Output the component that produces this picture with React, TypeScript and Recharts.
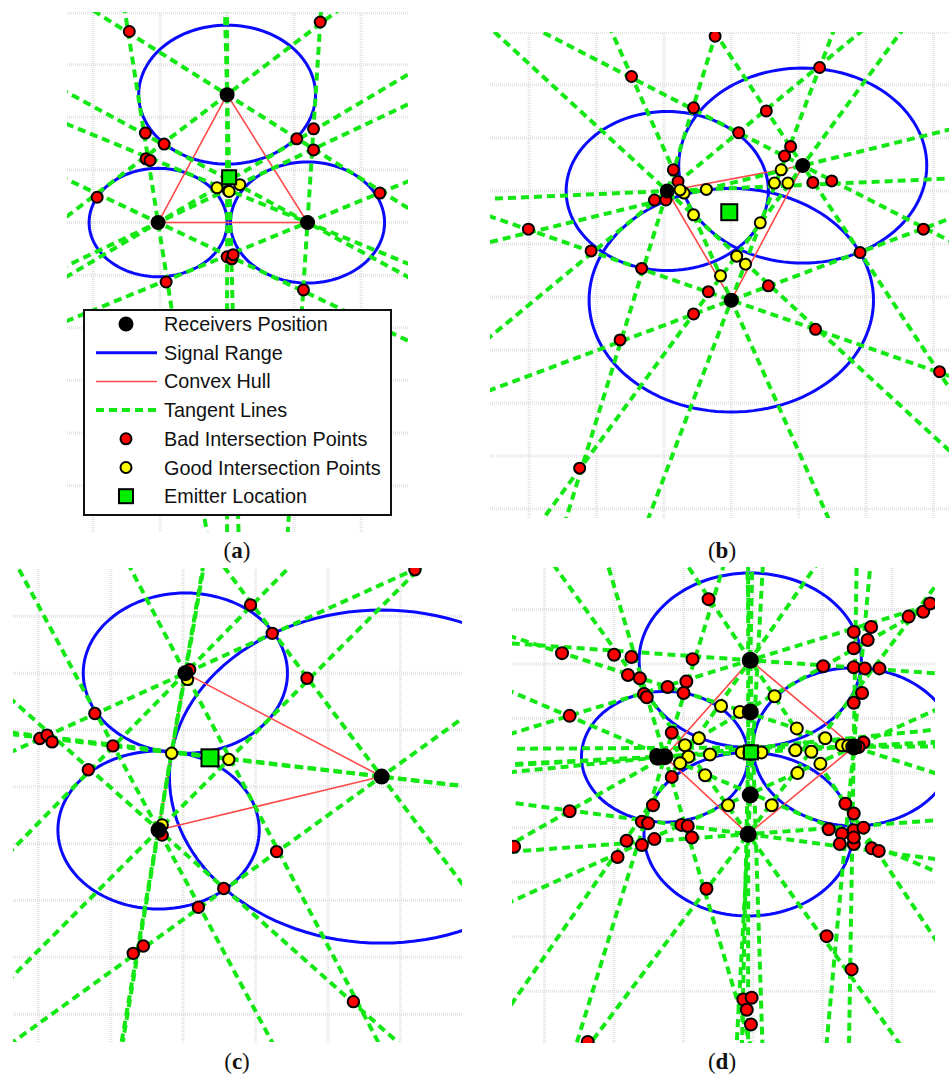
import React from 'react';
import { ScatterChart, Scatter, XAxis, YAxis, Legend } from 'recharts';

type Pt = { x: number; y: number };

// ---------- Panel (a): three receivers in a triangle ----------
const receiversA: Pt[] = [
  { x: 0, y: 2.43 },
  { x: -1.03, y: 0 },
  { x: 1.2, y: 0 },
];
const rangesA = [1.32, 1.03, 1.15];
const badA: Pt[] = [
  { x: -1.46, y: 3.63 }, { x: 1.39, y: 3.81 }, { x: -1.22, y: 1.7 }, { x: -0.94, y: 1.49 },
  { x: -1.21, y: 1.21 }, { x: -1.15, y: 1.18 }, { x: 1.04, y: 1.59 }, { x: 1.29, y: 1.78 },
  { x: 1.29, y: 1.38 }, { x: -1.94, y: 0.48 }, { x: 2.28, y: 0.56 }, { x: 0.0, y: -0.65 },
  { x: 0.07, y: -0.69 }, { x: 0.09, y: -0.61 }, { x: -0.91, y: -1.13 }, { x: 1.14, y: -1.28 },
];
const goodA: Pt[] = [
  { x: 0.02, y: 0.6 }, { x: -0.15, y: 0.66 }, { x: 0.19, y: 0.72 }, { x: 0.03, y: 0.59 },
];
const emitterA: Pt[] = [{ x: 0.03, y: 0.86 }];
const xTicksA = [-2, -1, 0, 1, 2];
const yTicksA = [3.98, 3, 2, 1, 0, -1, -2, -3, -4, -5];

// ---------- Panel (b) ----------
const receiversB: Pt[] = [
  { x: -0.95, y: 0 },
  { x: 1.06, y: 0.48 },
  { x: 0, y: -2.06 },
];
const rangesB = [1.5, 1.84, 2.11];
const badB: Pt[] = [
  { x: -0.24, y: 2.92 }, { x: -1.48, y: 2.16 }, { x: -0.56, y: 1.57 }, { x: 1.31, y: 2.33 },
  { x: 0.52, y: 1.51 }, { x: 0.11, y: 1.1 }, { x: 0.88, y: 0.84 }, { x: 0.79, y: 0.66 },
  { x: 1.21, y: 0.16 }, { x: 1.49, y: 0.19 }, { x: 2.85, y: -0.72 }, { x: 1.91, y: -1.16 },
  { x: -0.86, y: 0.4 }, { x: -0.79, y: 0.18 }, { x: -1.14, y: -0.17 }, { x: -0.97, y: -0.17 },
  { x: -3.01, y: -0.72 }, { x: -2.08, y: -1.13 }, { x: -1.33, y: -1.46 }, { x: -0.34, y: -1.9 },
  { x: 0.55, y: -1.79 }, { x: -0.56, y: -2.32 }, { x: 1.25, y: -2.61 }, { x: -1.65, y: -2.81 },
  { x: 3.09, y: -3.41 }, { x: -2.25, y: -5.23 },
];
const goodB: Pt[] = [
  { x: -0.37, y: 0.03 }, { x: -0.7, y: -0.04 }, { x: -0.76, y: 0.02 }, { x: -0.56, y: -0.45 },
  { x: 0.43, y: -0.6 }, { x: 0.64, y: 0.15 }, { x: 0.84, y: 0.15 }, { x: 0.74, y: 0.4 },
  { x: 0.08, y: -1.23 }, { x: 0.21, y: -1.38 }, { x: -0.16, y: -1.6 },
];
const emitterB: Pt[] = [{ x: -0.03, y: -0.4 }];
const xTicksB = [-3, -2, -1, 0, 1, 2, 3];
const yTicksB = [2.99, 2, 1, 0, -1, -2, -3, -4, -5, -6];

// ---------- Panel (c) ----------
const receiversC: Pt[] = [
  { x: 0.03, y: 1.0 },
  { x: 2.74, y: -0.82 },
  { x: -0.34, y: -1.76 },
];
const rangesC = [1.41, 2.93, 1.39];
const badC: Pt[] = [
  { x: 3.2, y: 2.82 }, { x: 0.93, y: 2.2 }, { x: 1.23, y: 1.7 }, { x: 1.71, y: 0.91 },
  { x: -1.22, y: 0.29 }, { x: -1.98, y: -0.15 }, { x: -1.88, y: -0.09 }, { x: -1.81, y: -0.21 },
  { x: -0.97, y: -0.28 }, { x: -1.31, y: -0.7 }, { x: 0.09, y: 1.06 }, { x: 1.29, y: -2.14 },
  { x: 0.56, y: -2.79 }, { x: 0.21, y: -3.12 }, { x: -0.55, y: -3.8 }, { x: -0.69, y: -3.93 },
  { x: 2.35, y: -4.78 }, { x: -0.29, y: -1.85 },
];
const goodC: Pt[] = [
  { x: 0.63, y: -0.52 }, { x: -0.16, y: -0.41 }, { x: 0.06, y: 0.89 }, { x: -0.29, y: -1.67 },
];
const emitterC: Pt[] = [{ x: 0.37, y: -0.49 }];
const xTicksC = [-2, -1, 0, 1, 2, 3];
const yTicksC = [2, 1, 0, -1, -2, -3, -4, -5];

// ---------- Panel (d): four receivers around the emitter ----------
const receiversD: Pt[] = [
  { x: -0.04, y: 2.07 },
  { x: -1.27, y: 0.3 },
  { x: 1.45, y: 0.48 },
  { x: -0.07, y: -1.12 },
];
const rangesD = [1.6, 1.2, 1.45, 1.5];
const darkClustersD: Pt[] = [
  { x: -0.04, y: 1.12 }, { x: -0.04, y: -0.4 }, { x: -0.03, y: 0.38 }, { x: -1.37, y: 0.29 },
];
const badD: Pt[] = [
  { x: -0.64, y: 3.19 }, { x: -2.75, y: 2.2 }, { x: -2.0, y: 2.17 }, { x: -1.75, y: 2.13 },
  { x: -1.8, y: 1.8 }, { x: -1.63, y: 1.74 }, { x: -1.57, y: 1.45 }, { x: -1.53, y: 1.39 },
  { x: -1.23, y: 1.58 }, { x: -0.96, y: 1.68 }, { x: -1.0, y: 1.47 }, { x: -0.87, y: 2.09 },
  { x: -2.64, y: 1.05 }, { x: -1.17, y: 0.74 }, { x: -1.39, y: 0.33 }, { x: -1.17, y: -0.07 },
  { x: -1.44, y: -0.59 }, { x: -2.64, y: -0.7 }, { x: 1.01, y: 1.96 }, { x: 1.45, y: 2.59 },
  { x: 1.7, y: 2.68 }, { x: 1.65, y: 2.44 }, { x: 1.45, y: 2.29 }, { x: 1.45, y: 1.94 },
  { x: 1.61, y: 1.92 }, { x: 1.82, y: 1.92 }, { x: 1.57, y: 1.47 }, { x: 1.45, y: 1.29 },
  { x: 2.24, y: 2.87 }, { x: 2.45, y: 2.96 }, { x: 2.55, y: 3.11 }, { x: 1.59, y: 0.56 },
  { x: 1.52, y: 0.48 }, { x: 1.33, y: -0.56 }, { x: 1.45, y: -0.74 }, { x: -1.6, y: -0.89 },
  { x: -1.51, y: -0.92 }, { x: -1.82, y: -1.24 }, { x: -1.6, y: -1.32 }, { x: -1.42, y: -1.21 },
  { x: -1.95, y: -1.54 }, { x: -3.44, y: -1.35 }, { x: -1.03, y: -0.95 }, { x: -0.94, y: -0.97 },
  { x: -0.88, y: -1.18 }, { x: -0.67, y: -2.12 }, { x: -2.38, y: -4.93 }, { x: 1.06, y: -2.99 },
  { x: 1.42, y: -3.6 }, { x: -0.14, y: -4.15 }, { x: -0.02, y: -4.12 }, { x: -0.09, y: -4.34 },
  { x: -0.03, y: -4.61 }, { x: 1.09, y: -1.03 }, { x: 1.28, y: -1.11 }, { x: 1.45, y: -1.05 },
  { x: 1.59, y: -1.0 }, { x: 1.25, y: -1.3 }, { x: 1.45, y: -1.3 }, { x: 1.45, y: -1.18 },
  { x: 1.71, y: -1.38 }, { x: 1.81, y: -1.43 },
];
const goodD: Pt[] = [
  { x: -0.46, y: 1.23 }, { x: 0.31, y: 1.41 }, { x: 0.63, y: 0.82 }, { x: -0.78, y: 0.64 },
  { x: -0.98, y: 0.51 }, { x: -0.93, y: 0.3 }, { x: -1.05, y: 0.18 }, { x: -0.62, y: 0.34 },
  { x: -0.69, y: -0.04 }, { x: 0.61, y: 0.42 }, { x: 1.04, y: 0.64 }, { x: 0.97, y: 0.17 },
  { x: 0.84, y: 0.39 }, { x: 0.64, y: 0.0 }, { x: 1.28, y: 0.51 }, { x: 1.37, y: 0.5 },
  { x: -0.16, y: 0.38 }, { x: 0.12, y: 0.38 }, { x: -0.36, y: -0.59 }, { x: 0.27, y: -0.59 },
  { x: -0.19, y: 1.12 },
];
const emitterD: Pt[] = [{ x: -0.03, y: 0.38 }];
const xTicksD = [-3, -2, -1, 0, 1, 2];
const yTicksD = [3, 2, 1, 0, -1, -2, -3, -4];

const legendLabels = [
  'Receivers Position',
  'Signal Range',
  'Convex Hull',
  'Tangent Lines',
  'Bad Intersection Points',
  'Good Intersection Points',
  'Emitter Location',
];

// ---------- styling ----------
const BLUE = '#0a0aff';
const HULL = '#ff4a4a';
const GREEN = '#14e814';
const RED = '#ff0000';
const YELLOW = '#ffff00';
const EMIT = '#00ee00';
const DASH = '8 5';
const GRID = '#e4e4e4';

// ---------- geometry helpers ----------
const circleOutline = (c: Pt, r: number): Pt[] => {
  const pts: Pt[] = [];
  for (let deg = 0; deg <= 360; deg += 3) {
    const a = (deg * Math.PI) / 180;
    pts.push({ x: c.x + r * Math.cos(a), y: c.y + r * Math.sin(a) });
  }
  return pts;
};

// Lines through each receiver, tangent to the range circle of every other receiver.
const tangentLines = (receivers: Pt[], ranges: number[]): Pt[][] => {
  const reach = 40;
  const out: Pt[][] = [];
  receivers.forEach((p, i) => {
    receivers.forEach((q, j) => {
      if (i === j) return;
      const dx = q.x - p.x;
      const dy = q.y - p.y;
      const d = Math.hypot(dx, dy);
      const half = Math.asin(Math.min(1, ranges[j] / d));
      const base = Math.atan2(dy, dx);
      [base - half, base + half].forEach((a) => {
        out.push([
          { x: p.x - reach * Math.cos(a), y: p.y - reach * Math.sin(a) },
          { x: p.x + reach * Math.cos(a), y: p.y + reach * Math.sin(a) },
        ]);
      });
    });
  });
  return out;
};

const hullLoop = (pts: Pt[]): Pt[] => {
  const cx = pts.reduce((s, p) => s + p.x, 0) / pts.length;
  const cy = pts.reduce((s, p) => s + p.y, 0) / pts.length;
  const sorted = [...pts].sort(
    (p, q) => Math.atan2(p.y - cy, p.x - cx) - Math.atan2(q.y - cy, q.x - cx),
  );
  return [...sorted, sorted[0]];
};

// Grid segments spanning the panel at every tick value.
const gridSegments = (xTicks: number[], yTicks: number[], xd: [number, number], yd: [number, number]): Pt[][] => [
  ...xTicks.map((t) => [{ x: t, y: yd[0] }, { x: t, y: yd[1] }]),
  ...yTicks.map((t) => [{ x: xd[0], y: t }, { x: xd[1], y: t }]),
];

// ---------- marker shapes ----------
const noMark = () => <g />;
const ringDot = (fill: string, r: number) => (p: any) =>
  p.cx == null ? <g /> : <circle cx={p.cx} cy={p.cy} r={r} fill={fill} stroke="#000" strokeWidth={2} />;
const solidDot = (r: number) => (p: any) =>
  p.cx == null ? <g /> : <circle cx={p.cx} cy={p.cy} r={r} fill="#000" />;
const squareMark = (side: number) => (p: any) =>
  p.cx == null ? (
    <g />
  ) : (
    <rect x={p.cx - side / 2} y={p.cy - side / 2} width={side} height={side} fill={EMIT} stroke="#000" strokeWidth={2} />
  );

function LegendBox() {
  const rowH = 28.7;
  return (
    <div style={{ width: 309, height: 207, boxSizing: 'border-box', border: '2px solid #111', background: '#fff' }}>
      <svg width={305} height={203} style={{ display: 'block' }}>
        {legendLabels.map((label, i) => {
          const cy = 13 + i * rowH;
          let sym: React.ReactNode = null;
          if (i === 0) sym = <circle cx={41} cy={cy} r={7.5} fill="#000" />;
          if (i === 1) sym = <line x1={11} x2={72} y1={cy} y2={cy} stroke={BLUE} strokeWidth={3} />;
          if (i === 2) sym = <line x1={11} x2={72} y1={cy} y2={cy} stroke={HULL} strokeWidth={1.5} />;
          if (i === 3)
            sym = <line x1={11} x2={72} y1={cy} y2={cy} stroke={GREEN} strokeWidth={4} strokeDasharray={DASH} />;
          if (i === 4) sym = <circle cx={41} cy={cy} r={5.5} fill={RED} stroke="#000" strokeWidth={2} />;
          if (i === 5) sym = <circle cx={41} cy={cy} r={5.5} fill={YELLOW} stroke="#000" strokeWidth={2} />;
          if (i === 6) sym = <rect x={34} y={cy - 7} width={14} height={14} fill={EMIT} stroke="#000" strokeWidth={2} />;
          return (
            <g key={label}>
              {sym}
              <text
                x={79}
                y={cy}
                dominantBaseline="central"
                fontFamily="'Liberation Sans', Arial, sans-serif"
                fontSize={19.8}
                fill="#111"
              >
                {label}
              </text>
            </g>
          );
        })}
      </svg>
    </div>
  );
}

type PanelConfig = {
  left: number;
  top: number;
  width: number;
  height: number;
  xDomain: [number, number];
  yDomain: [number, number];
  xTicks: number[];
  yTicks: number[];
  receivers: Pt[];
  ranges: number[];
  bad: Pt[];
  good: Pt[];
  dark?: Pt[];
  emitter: Pt[];
  markR: number;
  recvR: number;
  emitSide: number;
  showLegend?: boolean;
};

const panels: PanelConfig[] = [
  {
    left: 67, top: 12, width: 341, height: 520,
    xDomain: [-2.39, 2.7], yDomain: [-5.88, 4.0],
    xTicks: xTicksA, yTicks: yTicksA,
    receivers: receiversA, ranges: rangesA, bad: badA, good: goodA, emitter: emitterA,
    markR: 5.5, recvR: 7.5, emitSide: 14, showLegend: true,
  },
  {
    left: 490, top: 32, width: 459, height: 486,
    xDomain: [-3.58, 3.23], yDomain: [-6.17, 3.0],
    xTicks: xTicksB, yTicks: yTicksB,
    receivers: receiversB, ranges: rangesB, bad: badB, good: goodB, emitter: emitterB,
    markR: 5.5, recvR: 7.5, emitSide: 16,
  },
  {
    left: 13, top: 568, width: 449, height: 474,
    xDomain: [-2.35, 3.85], yDomain: [-5.49, 2.85],
    xTicks: xTicksC, yTicks: yTicksC,
    receivers: receiversC, ranges: rangesC, bad: badC, good: goodC, emitter: emitterC,
    markR: 5.7, recvR: 8, emitSide: 17,
  },
  {
    left: 512, top: 567, width: 423, height: 476,
    xDomain: [-3.47, 2.62], yDomain: [-4.95, 3.78],
    xTicks: xTicksD, yTicks: yTicksD,
    receivers: receiversD, ranges: rangesD, bad: badD, good: goodD, dark: darkClustersD, emitter: emitterD,
    markR: 6, recvR: 8.5, emitSide: 14,
  },
];

const panelLabels = [
  { letter: 'a', cx: 237, cy: 551 },
  { letter: 'b', cx: 722, cy: 551 },
  { letter: 'c', cx: 237, cy: 1062 },
  { letter: 'd', cx: 722, cy: 1062 },
];

function Panel({ cfg }: { cfg: PanelConfig }) {
  const lines = tangentLines(cfg.receivers, cfg.ranges);
  const grid = gridSegments(cfg.xTicks, cfg.yTicks, cfg.xDomain, cfg.yDomain);
  return (
    <div style={{ position: 'absolute', left: cfg.left, top: cfg.top }}>
      <ScatterChart width={cfg.width} height={cfg.height} margin={{ top: 0, right: 0, bottom: 0, left: 0 }}>
        <XAxis
          type="number"
          dataKey="x"
          domain={cfg.xDomain}
          ticks={cfg.xTicks}
          allowDataOverflow
          axisLine={false}
          tickLine={false}
          tick={false}
          height={0}
        />
        <YAxis
          type="number"
          dataKey="y"
          domain={cfg.yDomain}
          ticks={cfg.yTicks}
          allowDataOverflow
          axisLine={false}
          tickLine={false}
          tick={false}
          width={0}
        />
        {grid.map((seg, i) => (
          <Scatter
            key={`grid-${i}`}
            data={seg}
            line={{ stroke: GRID, strokeWidth: 3, strokeDasharray: '1 1' }}
            shape={noMark}
            legendType="none"
            isAnimationActive={false}
          />
        ))}
        {cfg.receivers.map((c, i) => (
          <Scatter
            key={`range-${i}`}
            data={circleOutline(c, cfg.ranges[i])}
            line={{ stroke: BLUE, strokeWidth: 3 }}
            shape={noMark}
            legendType="none"
            isAnimationActive={false}
          />
        ))}
        <Scatter
          data={hullLoop(cfg.receivers)}
          line={{ stroke: HULL, strokeWidth: 1.6 }}
          shape={noMark}
          legendType="none"
          isAnimationActive={false}
        />
        {lines.map((seg, i) => (
          <Scatter
            key={`tangent-${i}`}
            data={seg}
            line={{ stroke: GREEN, strokeWidth: 4, strokeDasharray: DASH }}
            shape={noMark}
            legendType="none"
            isAnimationActive={false}
          />
        ))}
        <Scatter data={cfg.bad} shape={ringDot(RED, cfg.markR)} legendType="none" isAnimationActive={false} />
        <Scatter data={cfg.good} shape={ringDot(YELLOW, cfg.markR)} legendType="none" isAnimationActive={false} />
        <Scatter
          data={[...cfg.receivers, ...(cfg.dark ?? [])]}
          shape={solidDot(cfg.recvR)}
          legendType="none"
          isAnimationActive={false}
        />
        <Scatter data={cfg.emitter} shape={squareMark(cfg.emitSide)} legendType="none" isAnimationActive={false} />
        {cfg.showLegend && (
          <Legend
            layout="vertical"
            align="center"
            verticalAlign="middle"
            content={() => <LegendBox />}
            wrapperStyle={{ left: 16, top: 297, width: 309, height: 207 }}
          />
        )}
      </ScatterChart>
    </div>
  );
}

export default function App() {
  return (
    <div style={{ position: 'absolute', left: 0, top: 0, width: 949, height: 1077, background: '#fff', overflow: 'hidden' }}>
      {panels.map((cfg, i) => (
        <Panel key={i} cfg={cfg} />
      ))}
      {panelLabels.map((l) => (
        <div
          key={l.letter}
          style={{
            position: 'absolute',
            left: l.cx - 40,
            top: l.cy - 15,
            width: 80,
            height: 30,
            lineHeight: '30px',
            textAlign: 'center',
            fontFamily: "'Liberation Serif', 'DejaVu Serif', serif",
            fontSize: 23,
            color: '#111',
          }}
        >
          (<b>{l.letter}</b>)
        </div>
      ))}
    </div>
  );
}
